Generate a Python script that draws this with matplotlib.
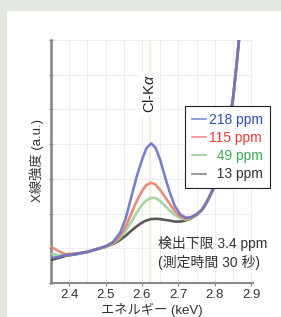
import numpy as np
import matplotlib.pyplot as plt
from matplotlib.patches import Rectangle
from matplotlib.lines import Line2D

plt.rcParams['font.family'] = ['Liberation Sans', 'Noto Sans CJK JP']
plt.rcParams['mathtext.fontset'] = 'custom'
plt.rcParams['mathtext.rm'] = 'Liberation Sans'
plt.rcParams['mathtext.it'] = 'Liberation Sans:italic'

# energy (keV)
energy = [2.35, 2.37, 2.39, 2.42, 2.45, 2.47, 2.50, 2.52, 2.54, 2.555,
          2.57, 2.585, 2.60, 2.612, 2.625, 2.637, 2.65, 2.662, 2.675, 2.69,
          2.705, 2.72, 2.735, 2.75, 2.765, 2.78, 2.80, 2.82, 2.835, 2.85,
          2.86, 2.87]

# intensity (a.u.)
ppm_218 = [0.72, 0.75, 0.80, 0.84, 0.90, 0.96, 1.06, 1.18, 1.45, 1.85,
           2.45, 3.05, 3.55, 3.88, 4.02, 3.90, 3.55, 3.10, 2.65, 2.22,
           1.98, 1.88, 1.90, 1.98, 2.12, 2.38, 2.80, 3.50, 4.30, 5.30,
           6.30, 7.40]
ppm_115 = [1.05, 0.92, 0.83, 0.85, 0.90, 0.96, 1.05, 1.15, 1.35, 1.62,
           1.98, 2.35, 2.65, 2.82, 2.89, 2.84, 2.68, 2.50, 2.30, 2.07,
           1.92, 1.85, 1.88, 1.97, 2.11, 2.37, 2.80, 3.50, 4.30, 5.30,
           6.30, 7.40]
ppm_49 = [0.85, 0.80, 0.80, 0.84, 0.89, 0.95, 1.04, 1.13, 1.30, 1.50,
          1.75, 2.02, 2.25, 2.38, 2.45, 2.45, 2.36, 2.24, 2.10, 1.96,
          1.88, 1.82, 1.86, 1.96, 2.10, 2.35, 2.80, 3.50, 4.30, 5.30,
          6.30, 7.40]
ppm_13 = [0.66, 0.72, 0.78, 0.83, 0.89, 0.95, 1.04, 1.12, 1.24, 1.36,
          1.50, 1.63, 1.74, 1.80, 1.84, 1.85, 1.84, 1.82, 1.80, 1.77,
          1.77, 1.80, 1.86, 1.96, 2.10, 2.35, 2.80, 3.50, 4.30, 5.30,
          6.30, 7.40]

series = [ppm_13, ppm_49, ppm_115, ppm_218]
line_colors = ['#4a4545', '#9ed29a', '#e8806a', '#6c72c4']
labels = ['218 ppm', '115 ppm', '  49 ppm', '  13 ppm']
label_colors = ['#2a4fa8', '#e83a3a', '#3aaa50', '#333333']
legend_line_colors = ['#7a90d0', '#f08a8a', '#8fd09a', '#888888']

xticks = [2.4, 2.5, 2.6, 2.7, 2.8, 2.9]

fig = plt.figure(figsize=(2.81, 3.17), dpi=100)
fig.patch.set_facecolor('#e2e7e0')
fig.patches.append(Rectangle((7 / 281, 0), 1, 1 - 11 / 317, transform=fig.transFigure,
                             facecolor='white', edgecolor='none', zorder=-10))

ax = fig.add_axes([51 / 281, 1 - 283 / 317, 202 / 281, 243 / 317])
ax.set_facecolor('white')

# faint marker at the Cl-Ka line
ax.axvline(2.623, color='#f2ead2', lw=1.2, zorder=1)

for vals, c in zip(series, line_colors):
    ax.plot(energy, vals, color=c, lw=1.9, alpha=0.9,
            solid_capstyle='round', solid_joinstyle='round', zorder=3)

ax.set_xlim(2.35, 2.905)
ax.set_ylim(0, 7)
ax.set_xticks(xticks)
ax.set_xticklabels([f'{v:.1f}' for v in xticks], fontsize=9.5, color='#333333')
ax.set_xticks(np.arange(2.35, 2.91, 0.05), minor=True)
ax.set_yticks(range(0, 8))
ax.set_yticklabels([])
ax.grid(True, which='both', color='#ededed', lw=0.8)
ax.set_axisbelow(True)
ax.tick_params(axis='x', which='major', length=2, color='#888888', pad=2)
ax.tick_params(axis='x', which='minor', length=0)
ax.tick_params(axis='y', length=3, direction='inout', color='#999999')
for s in ['top', 'right']:
    ax.spines[s].set_visible(False)
ax.spines['left'].set_color('#8a8080')
ax.spines['left'].set_linewidth(1.8)
ax.spines['bottom'].set_color('#8a8a8a')
ax.spines['bottom'].set_linewidth(1.5)

fig.text(152 / 281, 1 - 310 / 317, 'エネルギー (keV)', fontsize=9.5,
         color='#333333', ha='center', va='center')
fig.text(37 / 281, 1 - 160 / 317, 'X線強度 (a.u.)', rotation=90, fontsize=9.5,
         color='#333333', ha='center', va='center')

ax.text(2.621, 5.45, 'Cl-K$\\mathit{\\alpha}$', rotation=90, fontsize=10.5,
        color='#222222', ha='center', va='center', zorder=4,
        bbox=dict(facecolor='white', edgecolor='none', pad=1.5))

ax.text(2.643, 1.15, '検出下限 3.4 ppm', fontsize=10, color='#333333',
        ha='left', va='center', zorder=4)
ax.text(2.645, 0.6, '(測定時間 30 秒)', fontsize=10, color='#333333',
        ha='left', va='center', zorder=4)

handles = [Line2D([], [], color=c, lw=1.2) for c in legend_line_colors]
leg = fig.legend(handles, labels, loc='upper left',
                 bbox_to_anchor=(185 / 281, 1 - 106 / 317),
                 fontsize=10, frameon=True, fancybox=False, framealpha=1,
                 handlelength=1.0, handletextpad=0.25, labelspacing=0.3,
                 borderpad=0.5, borderaxespad=0)
leg.set_zorder(10)
leg.get_frame().set_edgecolor('#222222')
leg.get_frame().set_linewidth(0.8)
for t, c in zip(leg.get_texts(), label_colors):
    t.set_color(c)

fig.savefig('out.png', dpi=100)
